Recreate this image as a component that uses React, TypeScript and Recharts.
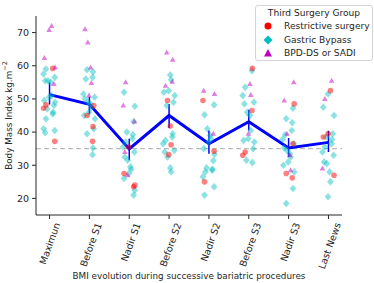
import { ComposedChart, Scatter, Line, XAxis, YAxis, ReferenceLine, ErrorBar } from 'recharts';

const CATEGORIES = ['Maximun', 'Before S1', 'Nadir S1', 'Before S2', 'Nadir S2', 'Before S3', 'Nadir S3', 'Last News'];
const MEAN_BMI = [51.3, 48.4, 34.9, 45.0, 36.5, 43.1, 35.2, 36.9];
const CI_LOW = [48.3, 45.5, 31.5, 41.2, 33.5, 40.5, 32.5, 34.0];
const CI_HIGH = [55.0, 50.6, 38.0, 48.5, 40.5, 46.7, 38.2, 40.4];
const Y_TICKS = [20, 30, 40, 50, 60, 70];

// one list per category, in CATEGORIES order
const RESTRICTIVE = [
  [59.2, 48.2, 47.2, 37.2],
  [48, 45, 41.7, 37.2],
  [35.5, 27.5, 24, 23.5],
  [49.5, 41.8, 36.2, 33.2],
  [49.5, 34.2, 25],
  [59.2, 46.5, 34, 33],
  [48.5, 36.5, 27.5, 26.2],
  [52.5, 39.5, 38.5, 27],
];
const GASTRIC = [
  [59, 57.5, 56.5, 55.5, 55.5, 55, 51, 50.5, 49.5, 49, 48, 47, 46, 45.5, 44, 41, 40.5, 39.8],
  [58.8, 58.2, 56.5, 56, 51.5, 50.5, 50, 49, 48.5, 47.5, 46, 45, 44, 41, 39.5, 35.2, 33.2],
  [52, 47.8, 43.2, 40, 39.2, 38, 37, 35.5, 34, 32.5, 31.5, 29.5, 28.8, 27.5, 26, 22.5, 21],
  [57.2, 55.8, 52.5, 52, 51, 49, 48, 39.5, 38.5, 37.5, 36.5, 34.5, 34, 32.5, 29.2, 28],
  [48.2, 45.2, 41, 39, 38, 37, 35, 33.3, 31.4, 29.2, 28.8, 28.5, 28, 26.5, 23.5, 21],
  [58.5, 53.5, 51, 49, 48.5, 46, 45, 40.5, 38, 37.5, 37, 35, 31.5, 30.8],
  [47.2, 44, 42.8, 40.5, 39.2, 37.8, 36.5, 35.2, 34.5, 33.5, 32.5, 31, 30, 28, 23, 18.5],
  [51.5, 47.5, 45, 39.5, 38.5, 37.8, 36.5, 35.5, 34, 33, 31, 30.5, 28, 25, 20.5],
];
const BPD = [
  [72, 70.8, 62.3, 59.5, 54.5],
  [71, 67, 59.5, 54.8, 51],
  [55, 48, 43.2, 34, 27],
  [64, 61.8, 55.2, 54],
  [52.5, 51.5, 39.5],
  [54.5, 51.2, 39.5],
  [55, 49.5, 39.5, 33, 28.5],
  [55.5, 50, 29],
];

// fixed strip offsets so points don't sit on top of each other
const JITTER = [-0.13, 0.08, -0.04, 0.14, -0.09, 0.03, 0.11, -0.15, 0.05, -0.06, 0.13, -0.01, 0.09, -0.11];

const toPoints = (groups: number[][], seed: number) =>
  groups.flatMap((vals, ci) =>
    vals.map((v, i) => ({ x: ci + JITTER[(ci * 5 + i * 3 + seed) % JITTER.length], y: v }))
  );

const restrictivePts = toPoints(RESTRICTIVE, 1);
const gastricPts = toPoints(GASTRIC, 4);
const bpdPts = toPoints(BPD, 8);

const meanData = CATEGORIES.map((c, i) => ({
  x: i,
  name: c,
  mean: MEAN_BMI[i],
  err: [MEAN_BMI[i] - CI_LOW[i], CI_HIGH[i] - MEAN_BMI[i]],
}));

const FONT = 'DejaVu Sans, sans-serif';
const INK = '#262626';

const RedDot = (p: any) => <circle cx={p.cx} cy={p.cy} r={2.8} fill="#ff0000" fillOpacity={0.5} />;
const CyanDiamond = (p: any) => (
  <polygon
    points={`${p.cx},${p.cy - 3.8} ${p.cx + 3.4},${p.cy} ${p.cx},${p.cy + 3.8} ${p.cx - 3.4},${p.cy}`}
    fill="#00bfbf"
    fillOpacity={0.45}
  />
);
const MagentaTri = (p: any) => (
  <polygon
    points={`${p.cx},${p.cy - 3} ${p.cx + 2.8},${p.cy + 2} ${p.cx - 2.8},${p.cy + 2}`}
    fill="#bf00bf"
    fillOpacity={0.5}
  />
);

const CatTick = (props: any) => {
  const { x, y, payload } = props;
  const label = CATEGORIES[payload.value] ?? '';
  const len = label.length * 5.4;
  const ax = x + len * 0.171 + 1;
  const ay = y + 2;
  return (
    <text
      x={ax}
      y={ay}
      transform={`rotate(-70, ${ax}, ${ay})`}
      textAnchor="end"
      dominantBaseline="central"
      fontSize={9.5}
      fill={INK}
      fontFamily={FONT}
    >
      {label}
    </text>
  );
};

const YLabel = (props: any) => {
  const vb = props.viewBox || {};
  const cx = 9;
  const cy = (vb.y ?? 16) + (vb.height ?? 199) / 2;
  return (
    <text
      x={cx}
      y={cy}
      transform={`rotate(-90, ${cx}, ${cy})`}
      textAnchor="middle"
      dominantBaseline="central"
      fontSize={8.8}
      fill={INK}
      fontFamily={FONT}
    >
      Body Mass Index kg.m<tspan dy={-4} fontSize={6.5}>−2</tspan>
    </text>
  );
};

const legendRows = [
  { label: 'Restrictive surgery', mark: <circle cx={6} cy={6} r={3.5} fill="#ff0000" /> },
  { label: 'Gastric Bypass', mark: <polygon points="6,1.5 10.5,6 6,10.5 1.5,6" fill="#00bfbf" /> },
  { label: 'BPD-DS or SADI', mark: <polygon points="6,2 10,9.5 2,9.5" fill="#bf00bf" /> },
];

export default function App() {
  return (
    <div style={{ position: 'absolute', left: 0, top: 0, width: 374, height: 283, background: '#fff', fontFamily: FONT }}>
      <ComposedChart width={374} height={283} margin={{ top: 16, right: 32, bottom: 0, left: 0 }}>
        <XAxis
          type="number"
          dataKey="x"
          domain={[-0.34, 7.34]}
          ticks={[0, 1, 2, 3, 4, 5, 6, 7]}
          interval={0}
          allowDataOverflow
          height={68}
          tickSize={4}
          tickMargin={2}
          tick={<CatTick />}
          stroke={INK}
          tickLine={{ stroke: INK }}
          label={{ value: 'BMI evolution during successive bariatric procedures', position: 'insideBottom', offset: 4, fontSize: 8.8, fill: INK, fontFamily: FONT }}
        />
        <YAxis
          type="number"
          domain={[15, 75]}
          ticks={Y_TICKS}
          allowDataOverflow
          width={36}
          tickSize={4}
          tickMargin={3}
          stroke={INK}
          tick={{ fontSize: 9.5, fill: INK, fontFamily: FONT }}
          label={<YLabel />}
        />
        <ReferenceLine y={35} stroke="#bdbdbd" strokeWidth={1.3} strokeDasharray="5 3" />
        <Scatter name="Gastric Bypass" data={gastricPts} dataKey="y" shape={CyanDiamond} isAnimationActive={false} />
        <Scatter name="Restrictive surgery" data={restrictivePts} dataKey="y" shape={RedDot} isAnimationActive={false} />
        <Scatter name="BPD-DS or SADI" data={bpdPts} dataKey="y" shape={MagentaTri} isAnimationActive={false} />
        <Line
          data={meanData}
          dataKey="mean"
          type="linear"
          stroke="#0000ff"
          strokeWidth={3}
          dot={false}
          activeDot={false}
          isAnimationActive={false}
        >
          <ErrorBar dataKey="err" direction="y" width={0} stroke="#0000ff" strokeWidth={1.5} />
        </Line>
      </ComposedChart>
      <div
        style={{
          position: 'absolute',
          left: 255,
          top: 5,
          width: 118,
          height: 56,
          border: '1px solid #d4d4d4',
          borderRadius: 3,
          background: 'rgba(255,255,255,0.85)',
          color: INK,
          fontSize: 9.1,
          whiteSpace: 'nowrap',
          boxSizing: 'border-box',
        }}
      >
        <div style={{ position: 'absolute', left: 0, right: 0, top: 1, textAlign: 'center', lineHeight: '12px' }}>
          Third Surgery Group
        </div>
        {legendRows.map((r, i) => (
          <div key={r.label} style={{ position: 'absolute', left: 6, top: 14 + i * 13.5, height: 12, display: 'flex', alignItems: 'center' }}>
            <svg width={12} height={12}>{r.mark}</svg>
            <span style={{ marginLeft: 10, lineHeight: '12px' }}>{r.label}</span>
          </div>
        ))}
      </div>
    </div>
  );
}
